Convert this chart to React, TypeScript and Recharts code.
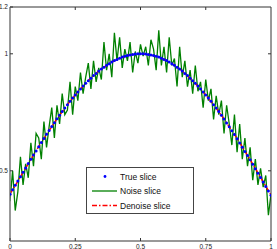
import React from 'react';
import { ComposedChart, Line, XAxis, YAxis, Legend } from 'recharts';

const X_TICKS = [0, 0.25, 0.5, 0.75, 1];
const X_TICK_LABELS = ['0', '0.25', '0.5', '0.75', '1'];
const Y_TICKS = [0.5, 1, 1.2];
const Y_TICK_LABELS = ['0.5', '1', '1.2'];

const TRUE_SLICE = [
  0.400, 0.419, 0.438, 0.456, 0.475, 0.494, 0.512, 0.531, 0.549, 0.567,
  0.585, 0.603, 0.621, 0.638, 0.656, 0.672, 0.689, 0.705, 0.722, 0.737,
  0.753, 0.768, 0.782, 0.797, 0.811, 0.824, 0.837, 0.850, 0.862, 0.874,
  0.885, 0.896, 0.907, 0.916, 0.926, 0.935, 0.943, 0.951, 0.958, 0.965,
  0.971, 0.976, 0.981, 0.986, 0.989, 0.993, 0.995, 0.997, 0.999, 1.000,
  1.000,
  1.000, 0.999, 0.997, 0.995, 0.993, 0.989, 0.986, 0.981, 0.976, 0.971,
  0.965, 0.958, 0.951, 0.943, 0.935, 0.926, 0.916, 0.907, 0.896, 0.885,
  0.874, 0.862, 0.850, 0.837, 0.824, 0.811, 0.797, 0.782, 0.768, 0.753,
  0.737, 0.721, 0.704, 0.688, 0.671, 0.655, 0.637, 0.619, 0.601, 0.583,
  0.565, 0.547, 0.528, 0.509, 0.490, 0.471, 0.452, 0.433, 0.414, 0.395,
];

const NOISE_SLICE = [
  0.37, 0.50, 0.33, 0.41, 0.56, 0.44, 0.53, 0.47, 0.62, 0.52,
  0.66, 0.64, 0.55, 0.71, 0.60, 0.69, 0.77, 0.64, 0.78, 0.70,
  0.83, 0.74, 0.76, 0.88, 0.74, 0.86, 0.80, 0.92, 0.83, 0.90,
  0.96, 0.85, 0.97, 0.88, 0.94, 0.89, 1.05, 0.93, 1.00, 0.90,
  1.09, 0.97, 1.07, 0.94, 1.02, 0.97, 1.05, 0.92, 1.01, 0.96,
  1.04,
  0.99, 1.03, 0.95, 1.06, 1.02, 0.93, 1.10, 0.95, 1.03, 0.92,
  1.07, 0.95, 0.98, 0.86, 1.03, 0.90, 0.97, 0.86, 0.93, 0.83,
  0.95, 0.84, 0.88, 0.77, 0.89, 0.80, 0.85, 0.72, 0.82, 0.74,
  0.80, 0.66, 0.78, 0.70, 0.61, 0.74, 0.58, 0.70, 0.55, 0.64,
  0.52, 0.60, 0.46, 0.55, 0.44, 0.51, 0.43, 0.48, 0.31, 0.40,
];

const DENOISE_SLICE = [
  0.402, 0.436, 0.476, 0.511, 0.550, 0.586, 0.620, 0.657, 0.688, 0.723,
  0.752, 0.783, 0.810, 0.838, 0.861, 0.886, 0.906, 0.927, 0.942, 0.959,
  0.970, 0.982, 0.988, 0.996, 0.998, 1.001, 0.998, 0.996, 0.988, 0.982,
  0.970, 0.959, 0.942, 0.927, 0.905, 0.886, 0.861, 0.838, 0.810, 0.783,
  0.752, 0.722, 0.688, 0.656, 0.620, 0.584, 0.548, 0.511, 0.472, 0.434,
  0.396,
];

const toPoints = (arr: number[]) => arr.map((y, i) => ({ x: i / (arr.length - 1), y }));

const trueData = toPoints(TRUE_SLICE);
const noiseData = toPoints(NOISE_SLICE);
const denoiseData = toPoints(DENOISE_SLICE);

const FONT = '"Liberation Sans", Arial, sans-serif';

const BottomTick = (props: any) => {
  const { x, y, payload } = props;
  const idx = X_TICKS.indexOf(payload.value);
  return (
    <g>
      <line x1={x} y1={y} x2={x} y2={y - 3} stroke="#333" strokeWidth={1} />
      <text x={x} y={y + 7.5} textAnchor="middle" fontSize={6.5} fontFamily={FONT} fill="#222">
        {idx >= 0 ? X_TICK_LABELS[idx] : payload.value}
      </text>
    </g>
  );
};

const TopTick = (props: any) => {
  const { x, y } = props;
  return <line x1={x} y1={y} x2={x} y2={y + 3} stroke="#333" strokeWidth={1} />;
};

const LeftTick = (props: any) => {
  const { x, y, payload } = props;
  const idx = Y_TICKS.indexOf(payload.value);
  return (
    <g>
      <line x1={x} y1={y} x2={x + 3} y2={y} stroke="#333" strokeWidth={1} />
      <text x={x - 2} y={y + 2.3} textAnchor="end" fontSize={6.5} fontFamily={FONT} fill="#222">
        {idx >= 0 ? Y_TICK_LABELS[idx] : payload.value}
      </text>
    </g>
  );
};

const RightTick = (props: any) => {
  const { x, y } = props;
  return <line x1={x} y1={y} x2={x - 3} y2={y} stroke="#333" strokeWidth={1} />;
};

const LegendBox = () => (
  <div
    style={{
      width: 106,
      height: 45,
      border: '1px solid #444',
      background: '#fff',
      fontFamily: FONT,
      fontSize: 8.5,
      color: '#111',
      boxSizing: 'content-box',
    }}
  >
    <svg width={106} height={45} style={{ display: 'block' }}>
      <circle cx={18} cy={8.5} r={1.4} fill="#0000ff" />
      <text x={33} y={11.5} fontSize={8.5} fontFamily={FONT} fill="#111">True slice</text>
      <line x1={5} y1={23} x2={30} y2={23} stroke="#008000" strokeWidth={1.3} />
      <text x={33} y={26} fontSize={8.5} fontFamily={FONT} fill="#111">Noise slice</text>
      <line x1={5} y1={37.5} x2={30} y2={37.5} stroke="#ff0000" strokeWidth={1.3} strokeDasharray="5 2 1.5 2" />
      <text x={33} y={40.5} fontSize={8.5} fontFamily={FONT} fill="#111">Denoise slice</text>
    </svg>
  </div>
);

const Dot = (props: any) => {
  const { cx, cy } = props;
  if (cx == null || cy == null) return null;
  return <circle key={`d-${cx}`} cx={cx} cy={cy} r={1.5} fill="#0000ff" />;
};

export default function App() {
  return (
    <div style={{ position: 'absolute', left: 0, top: 0, width: 277, height: 249, background: '#fff' }}>
      <ComposedChart width={277} height={249} margin={{ top: 0, right: 0, bottom: 0, left: 0 }}>
        <XAxis
          dataKey="x"
          type="number"
          domain={[0, 1]}
          ticks={X_TICKS}
          tickSize={0}
          tickMargin={0}
          height={8}
          interval={0}
          tick={<BottomTick />}
          axisLine={{ stroke: '#777', strokeWidth: 1.5 }}
          allowDataOverflow
        />
        <XAxis
          xAxisId="top"
          orientation="top"
          dataKey="x"
          type="number"
          domain={[0, 1]}
          ticks={[0.25, 0.5, 0.75]}
          tickSize={0}
          tickMargin={0}
          height={7}
          interval={0}
          tick={<TopTick />}
          axisLine={{ stroke: '#333', strokeWidth: 1 }}
          allowDataOverflow
        />
        <YAxis
          dataKey="y"
          type="number"
          domain={[0.2, 1.2]}
          ticks={Y_TICKS}
          tickSize={0}
          tickMargin={0}
          width={10}
          interval={0}
          tick={<LeftTick />}
          axisLine={{ stroke: '#777', strokeWidth: 1.5 }}
          allowDataOverflow
        />
        <YAxis
          yAxisId="right"
          orientation="right"
          type="number"
          domain={[0.2, 1.2]}
          ticks={[0.5, 1]}
          tickSize={0}
          tickMargin={0}
          width={6}
          interval={0}
          tick={<RightTick />}
          axisLine={{ stroke: '#333', strokeWidth: 1 }}
          allowDataOverflow
        />
        <Line
          data={noiseData}
          dataKey="y"
          stroke="#008000"
          strokeWidth={1.3}
          dot={false}
          activeDot={false}
          isAnimationActive={false}
          type="linear"
        />
        <Line
          data={trueData}
          dataKey="y"
          stroke="none"
          dot={<Dot />}
          activeDot={false}
          isAnimationActive={false}
          type="linear"
        />
        <Line
          data={denoiseData}
          dataKey="y"
          stroke="#ff0000"
          strokeWidth={1.4}
          strokeDasharray="5 2 1.5 2"
          dot={false}
          activeDot={false}
          isAnimationActive={false}
          type="linear"
        />
        <Legend
          layout="vertical"
          align="center"
          verticalAlign="middle"
          content={<LegendBox />}
          wrapperStyle={{ position: 'absolute', left: 86, top: 167, width: 108, height: 47 }}
        />
      </ComposedChart>
    </div>
  );
}
